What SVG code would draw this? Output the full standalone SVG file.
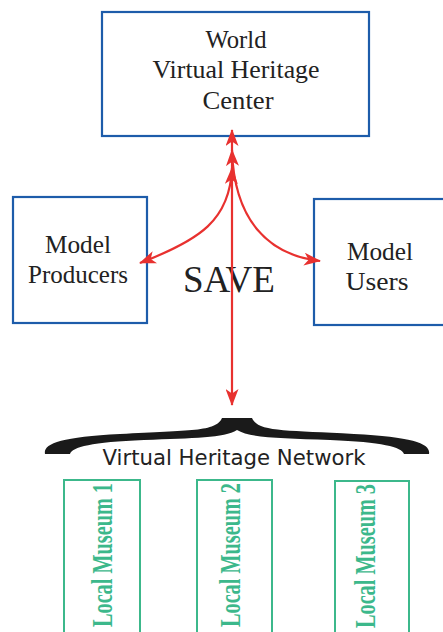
<svg xmlns="http://www.w3.org/2000/svg" width="443" height="632" viewBox="0 0 443 632">
<style>
.box{fill:#fff;stroke:#1d5caa;stroke-width:2.2}
.mus{fill:#fff;stroke:#3cb88b;stroke-width:2}
.lbl{font-family:"Liberation Serif",serif;font-size:25px;fill:#222;text-anchor:middle}
.mt{font-family:"Liberation Serif",serif;font-weight:bold;font-size:30px;fill:#3cb88b;text-anchor:middle}
.arr{fill:none;stroke:#e8312f;stroke-width:2.2}
</style>
<defs>
<marker id="ah" viewBox="0 0 17 13" refX="16" refY="6.5" markerWidth="17" markerHeight="13" markerUnits="userSpaceOnUse" orient="auto-start-reverse">
<path d="M0,0 L17,6.5 L0,13 L4.5,6.5 Z" fill="#e8312f"/>
</marker>
</defs>
<g id="center">
<rect class="box" x="102" y="12" width="267" height="124"/>
<text class="lbl" x="236" y="48" textLength="61" lengthAdjust="spacingAndGlyphs">World</text>
<text class="lbl" x="236" y="78" textLength="167" lengthAdjust="spacingAndGlyphs">Virtual Heritage</text>
<text class="lbl" x="238" y="109" textLength="71" lengthAdjust="spacingAndGlyphs">Center</text>
</g>
<g id="producers">
<rect class="box" x="13" y="197" width="134" height="126"/>
<text class="lbl" x="78" y="253" textLength="66" lengthAdjust="spacingAndGlyphs">Model</text>
<text class="lbl" x="78" y="283" textLength="100" lengthAdjust="spacingAndGlyphs">Producers</text>
</g>
<g id="users">
<rect class="box" x="314" y="199" width="135" height="126"/>
<text class="lbl" x="380" y="260" textLength="66" lengthAdjust="spacingAndGlyphs">Model</text>
<text class="lbl" x="377" y="290" textLength="63" lengthAdjust="spacingAndGlyphs">Users</text>
</g>
<g id="save">
<text x="229" y="292" font-family="'Liberation Serif',serif" font-size="37" fill="#222" text-anchor="middle" textLength="92" lengthAdjust="spacingAndGlyphs">SAVE</text>
</g>
<g id="connectors">
<path class="arr" d="M232,405 L232,130" marker-start="url(#ah)" marker-end="url(#ah)"/>
<path class="arr" d="M232,168 C230,220 200,240 140,263" marker-start="url(#ah)" marker-end="url(#ah)"/>
<path class="arr" d="M232,150 C234,220 268,255 320,261" marker-start="url(#ah)" marker-end="url(#ah)"/>
</g>
<g id="network">
<path fill="#1a1a1a" d="M45,454 C43,444 60,437 120,434 C190,430 216,432 222,418 L252,418 C258,432 284,430 354,434 C414,437 431,444 429,454 L404,454 C402,447 382,442 330,440 C280,438 250,438 237,430 C224,438 194,438 144,440 C92,442 72,447 70,454 Z"/>
<text x="234" y="465" font-family="'DejaVu Sans',sans-serif" font-size="21" fill="#222" text-anchor="middle" textLength="263" lengthAdjust="spacingAndGlyphs">Virtual Heritage Network</text>
</g>
<g id="museum1">
<rect class="mus" x="64" y="480" width="76" height="160"/>
<text class="mt" transform="translate(112,555) rotate(-90)" textLength="144" lengthAdjust="spacingAndGlyphs">Local Museum 1</text>
</g>
<g id="museum2">
<rect class="mus" x="197" y="480" width="75" height="160"/>
<text class="mt" transform="translate(240,555) rotate(-90)" textLength="144" lengthAdjust="spacingAndGlyphs">Local Museum 2</text>
</g>
<g id="museum3">
<rect class="mus" x="335" y="481" width="74" height="160"/>
<text class="mt" transform="translate(375,556) rotate(-90)" textLength="144" lengthAdjust="spacingAndGlyphs">Local Museum 3</text>
</g>
</svg>
